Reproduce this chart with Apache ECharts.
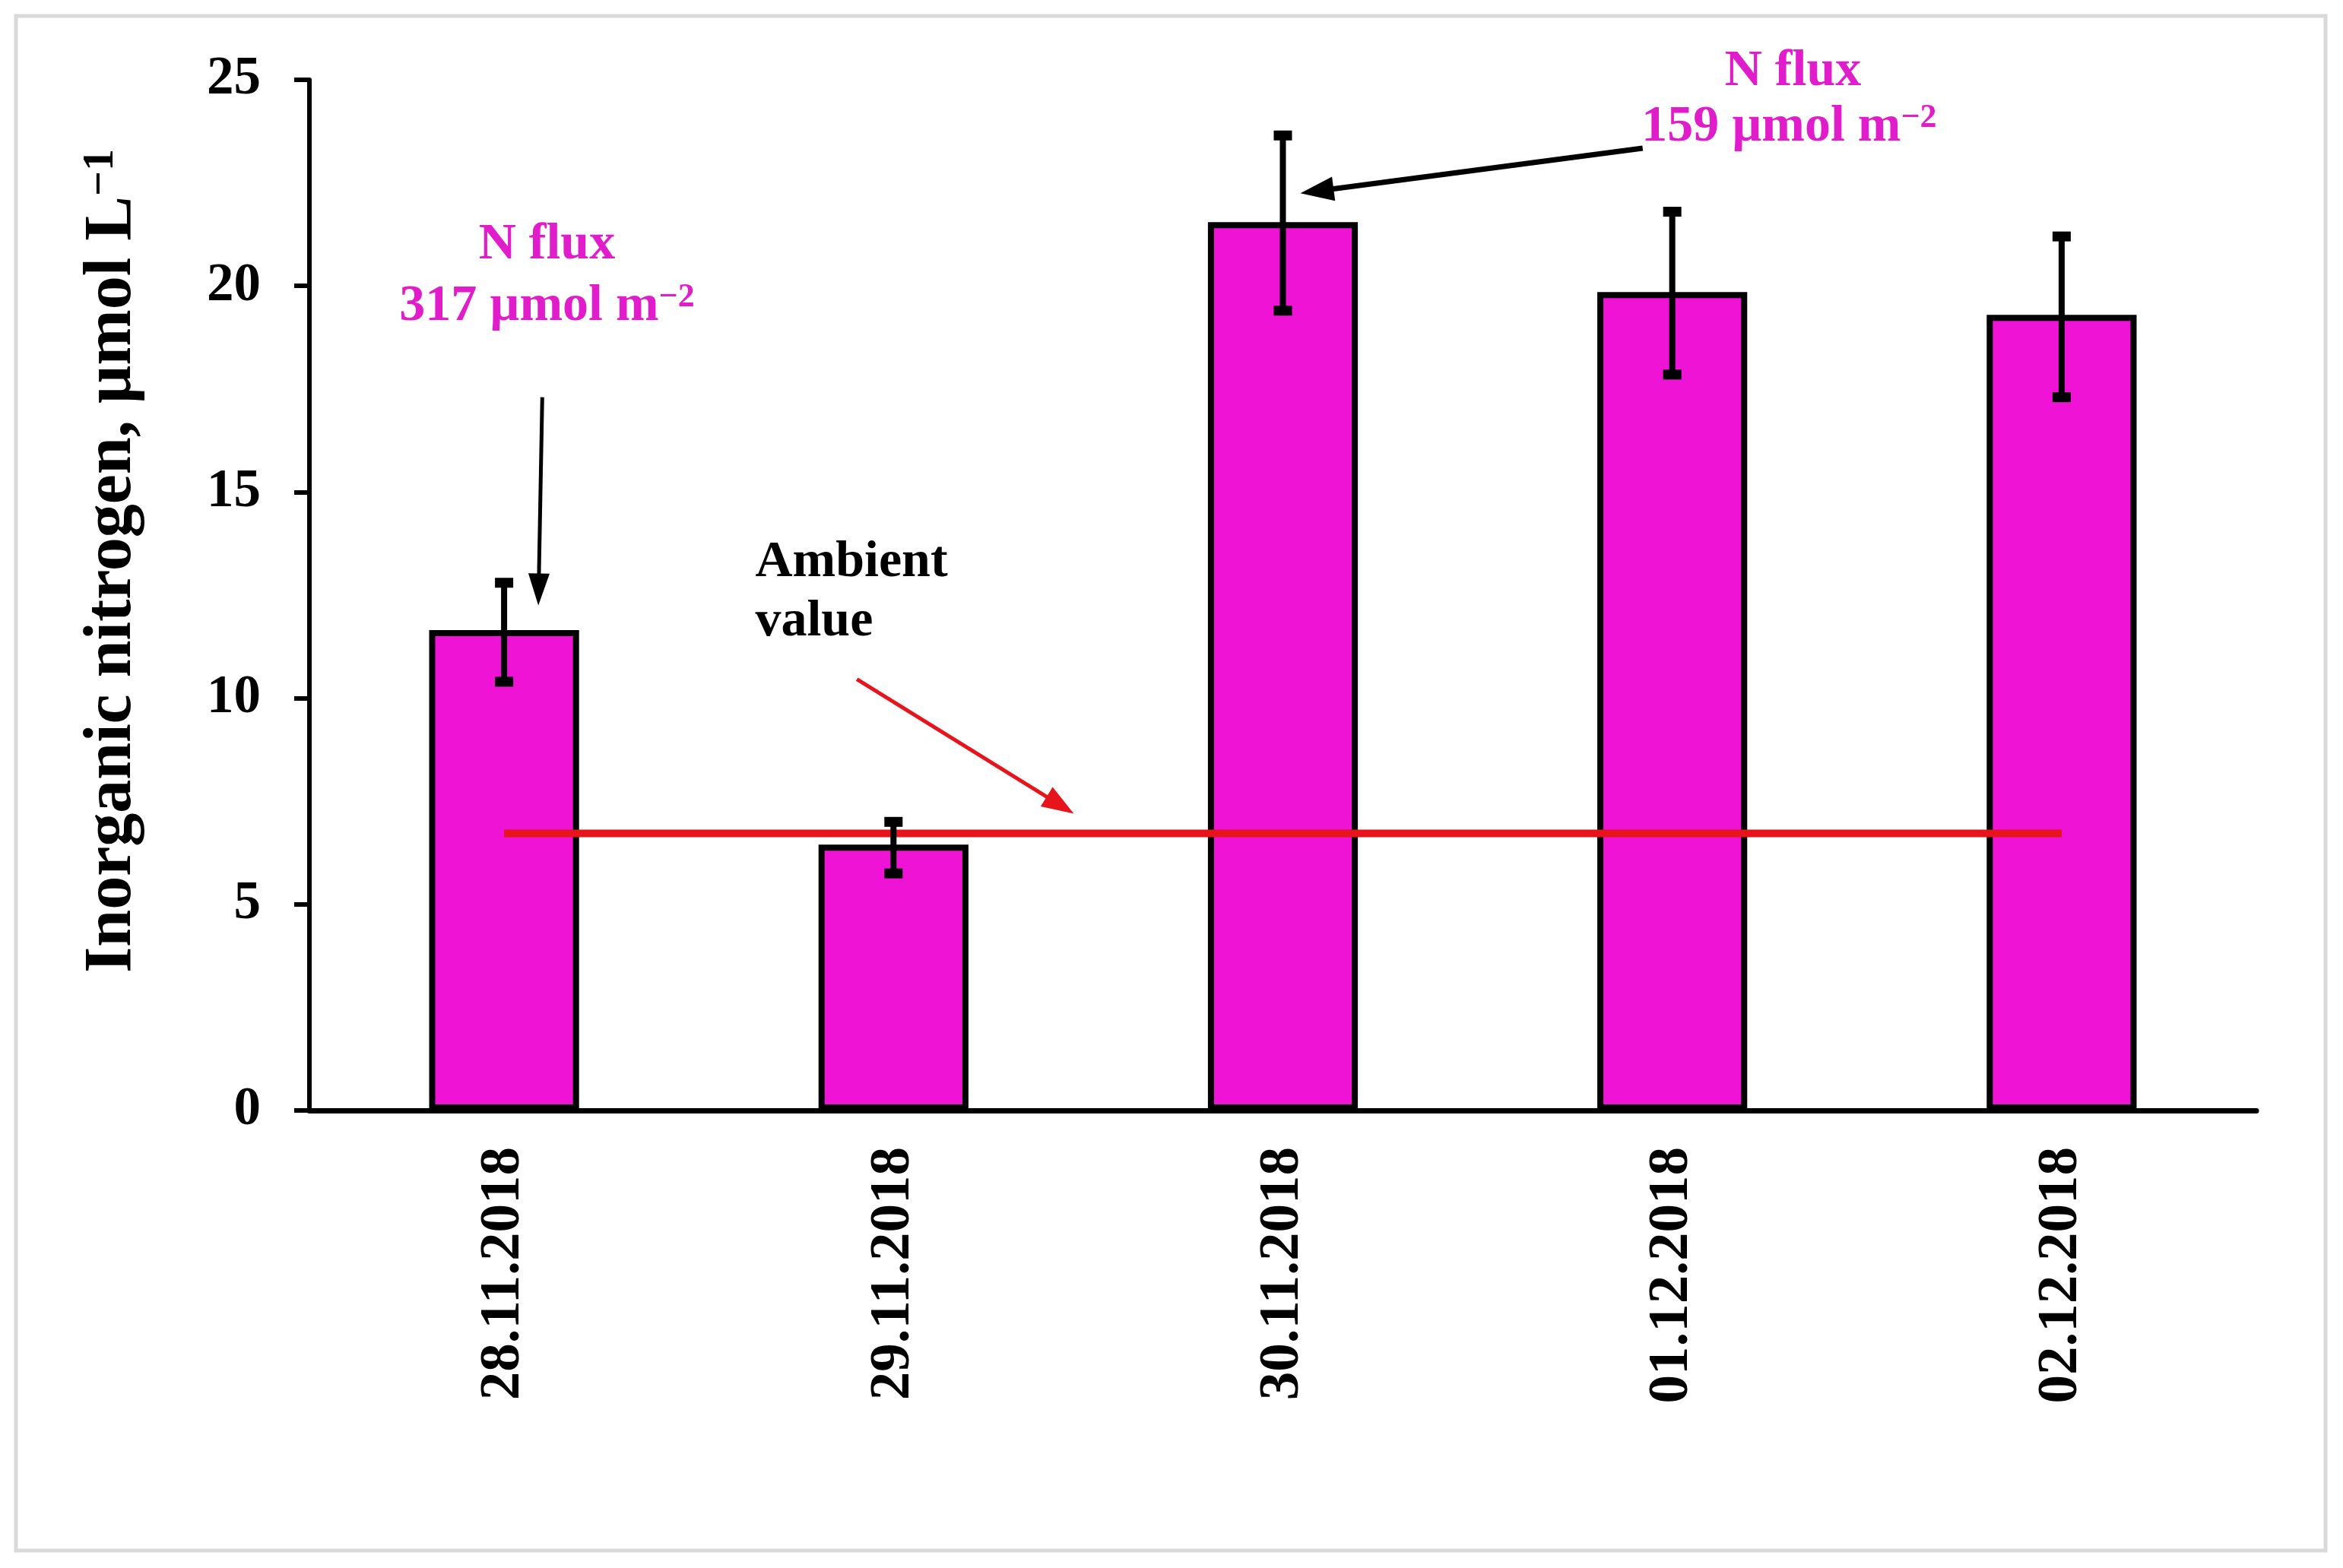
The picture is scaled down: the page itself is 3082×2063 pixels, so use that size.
<!DOCTYPE html>
<html>
<head>
<meta charset="utf-8">
<script src="https://cdn.jsdelivr.net/npm/echarts@6/dist/echarts.min.js"></script>
<style>
  html, body { margin: 0; padding: 0; background: #fff; }
  #chart { width: 3082px; height: 2063px; }
</style>
</head>
<body>
<div id="chart"></div>
<script>
// data
var categories = ['28.11.2018', '29.11.2018', '30.11.2018', '01.12.2018', '02.12.2018'];
var nitrogen = [11.65, 6.45, 21.55, 19.85, 19.3];
var errLow = [10.4, 5.75, 19.4, 17.85, 17.3];
var errHigh = [12.8, 7.0, 23.65, 21.8, 21.2];
var ambientValue = 6.72;
var yTicks = { min: 0, max: 25, interval: 5 };

var FONT = 'Liberation Serif';
var MAGENTA = '#EE13D5';
var TEXT_MAG = '#E01CCB';

var chart = echarts.init(document.getElementById('chart'));

var option = {
  backgroundColor: '#fff',
  animation: false,
  grid: { left: 407, right: 114, top: 105, bottom: 602 },
  xAxis: {
    type: 'category',
    data: categories,
    axisLine: { lineStyle: { color: '#000', width: 7 } },
    axisTick: { show: false },
    axisLabel: {
      rotate: 90, margin: 48, color: '#000',
      fontFamily: FONT, fontWeight: 'bold', fontSize: 75
    }
  },
  yAxis: {
    type: 'value',
    min: yTicks.min, max: yTicks.max, interval: yTicks.interval,
    splitLine: { show: false },
    axisLine: { show: true, lineStyle: { color: '#000', width: 6 } },
    axisTick: { show: true, length: 20, lineStyle: { color: '#000', width: 6 } },
    axisLabel: {
      margin: 64, color: '#000',
      fontFamily: FONT, fontWeight: 'bold', fontSize: 71
    },
    name: 'Inorganic nitrogen, µmol L{s|−1}',
    nameLocation: 'middle',
    nameRotate: 90,
    nameGap: 215,
    nameTextStyle: {
      color: '#000', fontFamily: FONT, fontWeight: 'bold', fontSize: 88,
      padding: [0, 0, 0, 90],
      rich: {
        s: { color: '#000', fontFamily: FONT, fontWeight: 'bold', fontSize: 58, verticalAlign: 'top' }
      }
    }
  },
  series: [
    {
      type: 'bar',
      data: nitrogen,
      barWidth: '38.5%',
      z: 2,
      itemStyle: { color: MAGENTA, borderColor: '#000', borderWidth: 8 }
    },
    {
      type: 'line',
      data: [[categories[0], ambientValue], [categories[categories.length - 1], ambientValue]],
      symbol: 'none',
      z: 3,
      lineStyle: { color: '#E8141C', width: 10 }
    },
    {
      type: 'custom',
      z: 4,
      data: categories.map(function (c, i) { return [i, errLow[i], errHigh[i]]; }),
      renderItem: function (params, api) {
        var lo = api.coord([api.value(0), api.value(1)]);
        var hi = api.coord([api.value(0), api.value(2)]);
        var capW = 24, capH = 13;
        return {
          type: 'group',
          children: [
            { type: 'line', shape: { x1: lo[0], y1: lo[1], x2: hi[0], y2: hi[1] },
              style: { stroke: '#000', lineWidth: 8 } },
            { type: 'rect', shape: { x: hi[0] - capW / 2, y: hi[1] - capH / 2, width: capW, height: capH },
              style: { fill: '#000' } },
            { type: 'rect', shape: { x: lo[0] - capW / 2, y: lo[1] - capH / 2, width: capW, height: capH },
              style: { fill: '#000' } }
          ]
        };
      }
    }
  ],
  graphic: [
    { type: 'rect', silent: true, z: -10,
      shape: { x: 21, y: 21, width: 3038, height: 2019 },
      style: { fill: 'none', stroke: '#d9d9d9', lineWidth: 5 } }
  ]
};

chart.setOption(option);

// annotation positions in data units: [category index (fractional), value]
var arrows = [
  { from: [0.098, 17.3], to: [0.088, 12.25], color: '#000', width: 5, head: 42, half: 14 },
  { from: [2.924, 23.34], to: [2.045, 22.25], color: '#000', width: 7, head: 44, half: 16 },
  { from: [0.906, 10.46], to: [1.463, 7.2], color: '#E8141C', width: 5, head: 42, half: 15 }
];
var notes = [
  { at: [0.11, 21.0], text: 'N flux', color: TEXT_MAG, align: 'center' },
  { at: [0.11, 19.5], text: '317 µmol m{s|−2}', color: TEXT_MAG, align: 'center' },
  { at: [3.31, 25.2], text: 'N flux', color: TEXT_MAG, align: 'center' },
  { at: [3.30, 23.84], text: '159 µmol m{s|−2}', color: TEXT_MAG, align: 'center' },
  { at: [0.645, 13.28], text: 'Ambient', color: '#000', align: 'left' },
  { at: [0.645, 11.85], text: 'value', color: '#000', align: 'left' }
];

function toPx(p) {
  var a = chart.convertToPixel({ gridIndex: 0 }, [0, p[1]]);
  var b = chart.convertToPixel({ gridIndex: 0 }, [1, p[1]]);
  return [a[0] + (b[0] - a[0]) * p[0], a[1]];
}

var extra = option.graphic.slice();
arrows.forEach(function (ar) {
  var s = toPx(ar.from), t = toPx(ar.to);
  var dx = t[0] - s[0], dy = t[1] - s[1];
  var len = Math.sqrt(dx * dx + dy * dy);
  var ux = dx / len, uy = dy / len;
  var bx = t[0] - ux * ar.head, by = t[1] - uy * ar.head;
  extra.push({ type: 'line', z: 20, silent: true,
    shape: { x1: s[0], y1: s[1], x2: bx + ux * 4, y2: by + uy * 4 },
    style: { stroke: ar.color, lineWidth: ar.width } });
  extra.push({ type: 'polygon', z: 20, silent: true,
    shape: { points: [[t[0], t[1]], [bx - uy * ar.half, by + ux * ar.half], [bx + uy * ar.half, by - ux * ar.half]] },
    style: { fill: ar.color } });
});
notes.forEach(function (n) {
  var p = toPx(n.at);
  extra.push({ type: 'text', z: 20, silent: true, x: p[0], y: p[1],
    style: {
      text: n.text, fill: n.color, align: n.align, verticalAlign: 'middle',
      fontFamily: FONT, fontWeight: 'bold', fontSize: 68,
      rich: {
        s: { fill: n.color, fontFamily: FONT, fontWeight: 'bold', fontSize: 44, verticalAlign: 'top' }
      }
    } });
});
chart.setOption({ graphic: extra });
</script>
</body>
</html>
